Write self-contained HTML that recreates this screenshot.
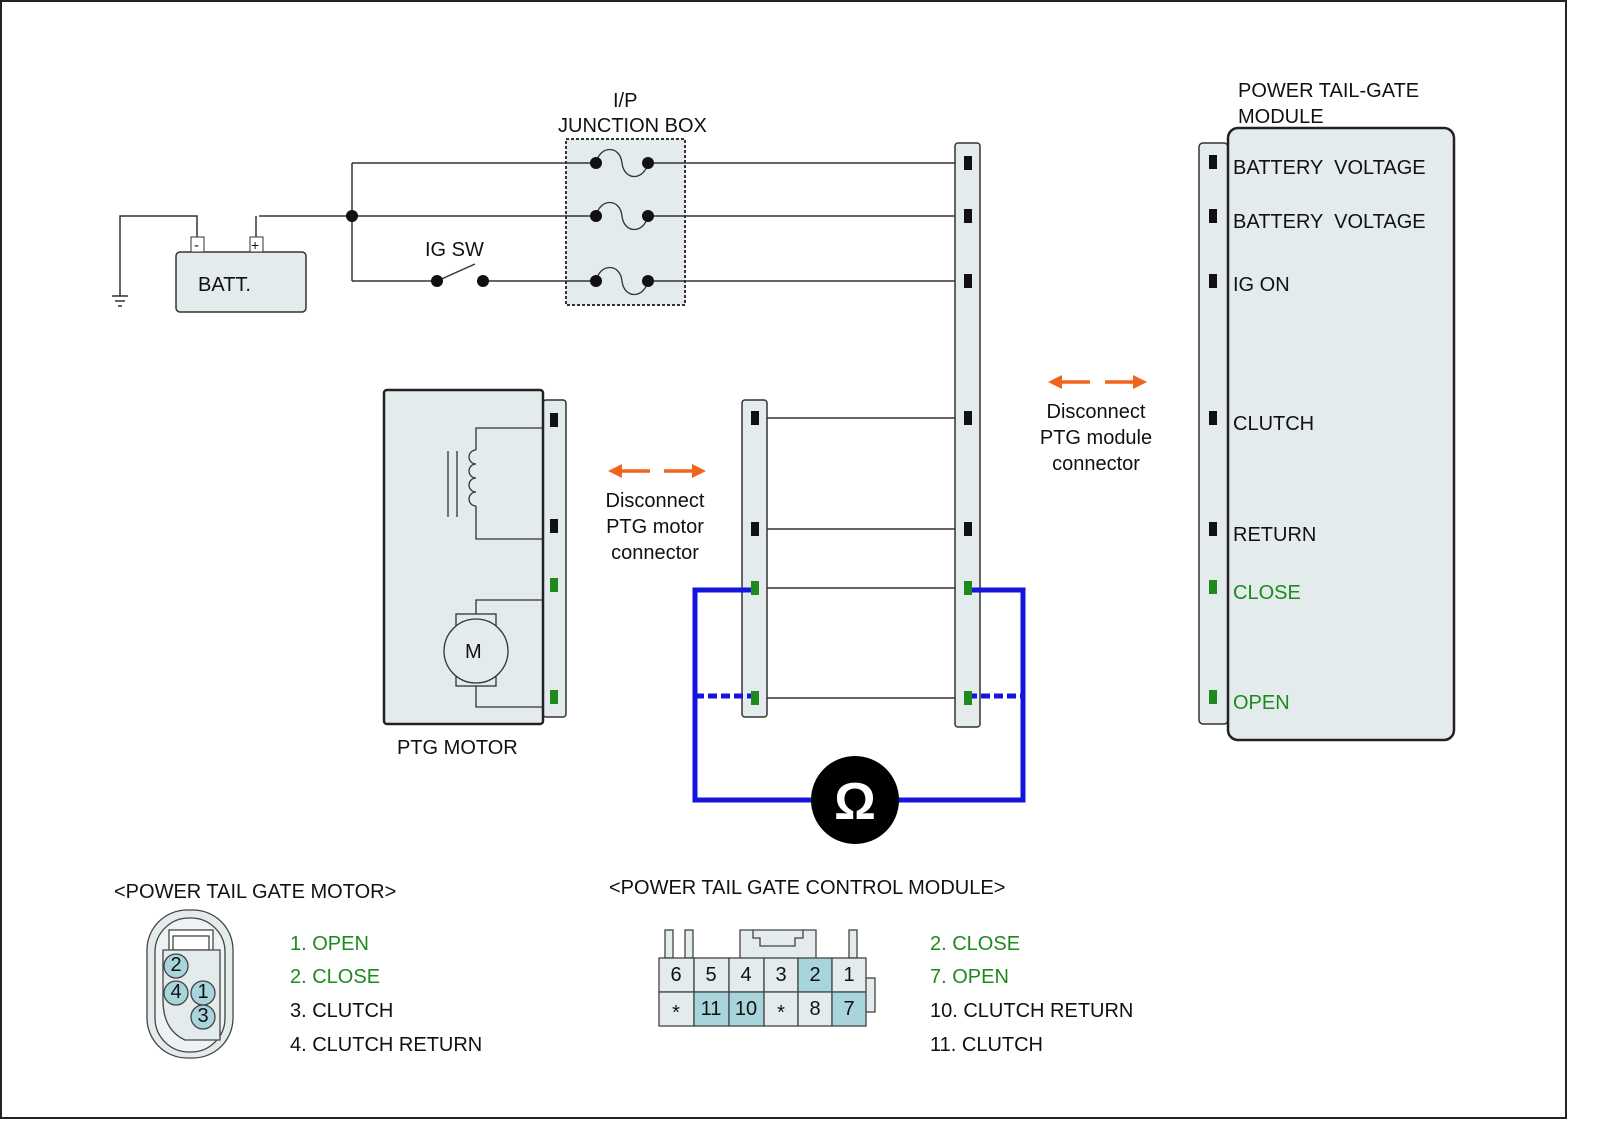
<!DOCTYPE html>
<html><head><meta charset="utf-8"><style>
html,body{margin:0;padding:0;background:#fff}
svg{display:block}
text{font-family:"Liberation Sans",Arial,sans-serif;font-size:20px;fill:#111;white-space:pre}
.g{fill:#1e8a1e}
</style></head><body>
<svg width="1600" height="1143" viewBox="0 0 1600 1143" xmlns="http://www.w3.org/2000/svg">
<rect x="1" y="1" width="1565" height="1117" fill="#fff" stroke="#222" stroke-width="2"/>
<g stroke="#333" stroke-width="1.5" fill="none">
<line x1="352" y1="163" x2="966" y2="163"/>
<line x1="259" y1="216" x2="966" y2="216"/>
<line x1="352" y1="281" x2="437" y2="281"/>
<line x1="483" y1="281" x2="966" y2="281"/>
<line x1="437" y1="281" x2="475" y2="264"/>
<line x1="352" y1="163" x2="352" y2="281"/>
<polyline points="197,237 197,216 120,216 120,296"/>
<line x1="112" y1="296" x2="128" y2="296"/>
<line x1="115" y1="301" x2="125" y2="301"/>
<line x1="118" y1="306" x2="122" y2="306"/>
<line x1="256" y1="237" x2="256" y2="216"/>
<line x1="755" y1="418" x2="966" y2="418"/>
<line x1="755" y1="529" x2="966" y2="529"/>
<line x1="755" y1="588" x2="966" y2="588"/>
<line x1="755" y1="698" x2="966" y2="698"/>
</g>
<rect x="176" y="252" width="130" height="60" rx="4" fill="#e4ebec" stroke="#333" stroke-width="1.5"/>
<rect x="191" y="237" width="13" height="15" fill="#fff" stroke="#333"/>
<rect x="250" y="237" width="13" height="15" fill="#fff" stroke="#333"/>
<text x="194" y="250" style="font-size:15px">-</text>
<text x="251" y="250" style="font-size:14px">+</text>
<text x="198" y="291">BATT.</text>
<circle cx="352" cy="216" r="6" fill="#111"/>
<circle cx="437" cy="281" r="6" fill="#111"/>
<circle cx="483" cy="281" r="6" fill="#111"/>
<text x="425" y="256">IG SW</text>
<rect x="566" y="139" width="119" height="166" fill="#e4ebec" stroke="#333" stroke-width="2" stroke-dasharray="3,2"/>
<line x1="648" y1="163" x2="685" y2="163" stroke="#333" stroke-width="1.5"/>
<line x1="648" y1="216" x2="685" y2="216" stroke="#333" stroke-width="1.5"/>
<line x1="648" y1="281" x2="685" y2="281" stroke="#333" stroke-width="1.5"/>
<line x1="566" y1="163" x2="596" y2="163" stroke="#333" stroke-width="1.5"/>
<line x1="566" y1="216" x2="596" y2="216" stroke="#333" stroke-width="1.5"/>
<line x1="566" y1="281" x2="596" y2="281" stroke="#333" stroke-width="1.5"/>
<g fill="none" stroke="#333" stroke-width="1.3">
<path d="M596,163 C600,145 620,145 622,163 C624,181 644,181 648,163"/>
<path d="M596,216 C600,198 620,198 622,216 C624,234 644,234 648,216"/>
<path d="M596,281 C600,263 620,263 622,281 C624,299 644,299 648,281"/>
</g>
<g fill="#111">
<circle cx="596" cy="163" r="6"/><circle cx="648" cy="163" r="6"/>
<circle cx="596" cy="216" r="6"/><circle cx="648" cy="216" r="6"/>
<circle cx="596" cy="281" r="6"/><circle cx="648" cy="281" r="6"/>
</g>
<text x="613" y="107">I/P</text>
<text x="558" y="132">JUNCTION BOX</text>
<rect x="955" y="143" width="25" height="584" rx="3" fill="#e4ebec" stroke="#333" stroke-width="1.5"/>
<rect x="742" y="400" width="25" height="317" rx="3" fill="#e4ebec" stroke="#333" stroke-width="1.5"/>
<g fill="#111">
<rect x="964" y="156" width="8" height="14"/><rect x="964" y="209" width="8" height="14"/><rect x="964" y="274" width="8" height="14"/>
<rect x="964" y="411" width="8" height="14"/><rect x="964" y="522" width="8" height="14"/>
<rect x="751" y="411" width="8" height="14"/><rect x="751" y="522" width="8" height="14"/>
</g>
<rect x="543" y="400" width="23" height="317" rx="3" fill="#e4ebec" stroke="#333" stroke-width="1.5"/>
<rect x="384" y="390" width="159" height="334" rx="3" fill="#e4ebec" stroke="#222" stroke-width="2.5"/>
<g fill="none" stroke="#333" stroke-width="1.3">
<polyline points="543,428 476,428 476,450"/>
<path d="M476,450 a7,7 0 0 0 0,14 a7,7 0 0 0 0,14 a7,7 0 0 0 0,14 a7,7 0 0 0 0,14"/>
<polyline points="476,506 476,539 543,539"/>
<line x1="448" y1="451" x2="448" y2="517"/><line x1="457" y1="451" x2="457" y2="517"/>
<polyline points="543,600 476,600 476,614"/>
<rect x="456" y="614" width="40" height="72"/>
<polyline points="476,686 476,707 543,707"/>
</g>
<circle cx="476" cy="651" r="32" fill="#e4ebec" stroke="#333" stroke-width="1.3"/>
<text x="465" y="658">M</text>
<g fill="#111"><rect x="550" y="413" width="8" height="14"/><rect x="550" y="519" width="8" height="14"/></g>
<g fill="#1e8a1e"><rect x="550" y="578" width="8" height="14"/><rect x="550" y="690" width="8" height="14"/></g>
<text x="397" y="754">PTG MOTOR</text>
<rect x="1199" y="143" width="29" height="581" rx="4" fill="#e4ebec" stroke="#333" stroke-width="1.5"/>
<rect x="1228" y="128" width="226" height="612" rx="10" fill="#e4ebec" stroke="#222" stroke-width="2.5"/>
<text x="1238" y="97">POWER TAIL-GATE</text>
<text x="1238" y="123">MODULE</text>
<g fill="#111">
<rect x="1209" y="155" width="8" height="14"/><rect x="1209" y="209" width="8" height="14"/><rect x="1209" y="274" width="8" height="14"/>
<rect x="1209" y="411" width="8" height="14"/><rect x="1209" y="522" width="8" height="14"/>
</g>
<g fill="#1e8a1e"><rect x="1209" y="580" width="8" height="14"/><rect x="1209" y="690" width="8" height="14"/></g>
<text x="1233" y="174">BATTERY  VOLTAGE</text>
<text x="1233" y="228">BATTERY  VOLTAGE</text>
<text x="1233" y="291">IG ON</text>
<text x="1233" y="430">CLUTCH</text>
<text x="1233" y="541">RETURN</text>
<text x="1233" y="599" class="g">CLOSE</text>
<text x="1233" y="709" class="g">OPEN</text>
<g fill="none" stroke="#1414dc" stroke-width="5">
<polyline points="755,590 695,590 695,800 1023,800 1023,590 968,590"/>
<line x1="695" y1="696" x2="755" y2="696" stroke-dasharray="9,4"/>
<line x1="968" y1="696" x2="1023" y2="696" stroke-dasharray="9,4"/>
</g>
<g fill="#1e8a1e">
<rect x="751" y="581" width="8" height="14"/><rect x="751" y="691" width="8" height="14"/>
<rect x="964" y="581" width="8" height="14"/><rect x="964" y="691" width="8" height="14"/>
</g>
<circle cx="855" cy="800" r="44" fill="#000"/>
<text x="855" y="819" text-anchor="middle" style="font-size:52px;fill:#fff;font-weight:bold">Ω</text>
<g stroke="#f0641e" stroke-width="3.5" fill="#f0641e">
<line x1="1058" y1="382" x2="1090" y2="382"/><polygon points="1048,382 1062,375 1062,389" stroke="none"/>
<line x1="1105" y1="382" x2="1137" y2="382"/><polygon points="1147,382 1133,375 1133,389" stroke="none"/>
<line x1="618" y1="471" x2="650" y2="471"/><polygon points="608,471 622,464 622,478" stroke="none"/>
<line x1="664" y1="471" x2="696" y2="471"/><polygon points="706,471 692,464 692,478" stroke="none"/>
</g>
<g style="font-size:19px">
<text x="1096" y="418" text-anchor="middle">Disconnect</text>
<text x="1096" y="444" text-anchor="middle">PTG module</text>
<text x="1096" y="470" text-anchor="middle">connector</text>
<text x="655" y="507" text-anchor="middle">Disconnect</text>
<text x="655" y="533" text-anchor="middle">PTG motor</text>
<text x="655" y="559" text-anchor="middle">connector</text>
</g>
<text x="114" y="898">&lt;POWER TAIL GATE MOTOR&gt;</text>
<text x="609" y="894">&lt;POWER TAIL GATE CONTROL MODULE&gt;</text>
<g stroke="#444" stroke-width="1.3" fill="#e4ebec">
<rect x="147" y="910" width="86" height="148" rx="40"/>
<rect x="155" y="918" width="70" height="134" rx="34" fill="#eef2f2"/>
<rect x="169" y="930" width="44" height="22" fill="#fff"/>
<rect x="173" y="936" width="36" height="14" fill="#fff"/>
<path d="M163,950 L220,950 L220,1040 L185,1040 Q163,1030 163,1000 Z"/>
</g>
<g stroke="#444" stroke-width="1.3" fill="#a8d4dc">
<circle cx="176" cy="966" r="12"/><circle cx="176" cy="993" r="12"/><circle cx="203" cy="993" r="12"/><circle cx="203" cy="1017" r="12"/>
</g>
<g style="font-size:14px">
<text x="176" y="971" text-anchor="middle">2</text><text x="176" y="998" text-anchor="middle">4</text>
<text x="203" y="998" text-anchor="middle">1</text><text x="203" y="1022" text-anchor="middle">3</text>
</g>
<text x="290" y="950" class="g">1. OPEN</text>
<text x="290" y="983" class="g">2. CLOSE</text>
<text x="290" y="1017">3. CLUTCH</text>
<text x="290" y="1051">4. CLUTCH RETURN</text>
<g stroke="#444" stroke-width="1.3" fill="#e4ebec">
<rect x="665" y="930" width="8" height="28"/><rect x="685" y="930" width="8" height="28"/>
<rect x="849" y="930" width="8" height="28"/>
<path d="M740,958 L740,930 L816,930 L816,958"/>
<path d="M753,930 L753,938 L760,938 L760,946 L795,946 L795,938 L803,938 L803,930" fill="none"/>
<rect x="865" y="978" width="10" height="34"/>
</g>
<g stroke="#444" stroke-width="1.3">
<rect x="659" y="958" width="35" height="34" fill="#e4ebec"/><rect x="694" y="958" width="35" height="34" fill="#e4ebec"/>
<rect x="729" y="958" width="35" height="34" fill="#e4ebec"/><rect x="764" y="958" width="34" height="34" fill="#e4ebec"/>
<rect x="798" y="958" width="34" height="34" fill="#a8d4dc"/><rect x="832" y="958" width="34" height="34" fill="#e4ebec"/>
<rect x="659" y="992" width="35" height="34" fill="#e4ebec"/><rect x="694" y="992" width="35" height="34" fill="#a8d4dc"/>
<rect x="729" y="992" width="35" height="34" fill="#a8d4dc"/><rect x="764" y="992" width="34" height="34" fill="#e4ebec"/>
<rect x="798" y="992" width="34" height="34" fill="#e4ebec"/><rect x="832" y="992" width="34" height="34" fill="#a8d4dc"/>
</g>
<g style="font-size:15px">
<text x="676" y="981" text-anchor="middle">6</text><text x="711" y="981" text-anchor="middle">5</text>
<text x="746" y="981" text-anchor="middle">4</text><text x="781" y="981" text-anchor="middle">3</text>
<text x="815" y="981" text-anchor="middle">2</text><text x="849" y="981" text-anchor="middle">1</text>
<text x="676" y="1019" text-anchor="middle" style="font-size:20px">*</text><text x="711" y="1015" text-anchor="middle">11</text>
<text x="746" y="1015" text-anchor="middle">10</text><text x="781" y="1019" text-anchor="middle" style="font-size:20px">*</text>
<text x="815" y="1015" text-anchor="middle">8</text><text x="849" y="1015" text-anchor="middle">7</text>
</g>
<text x="930" y="950" class="g">2. CLOSE</text>
<text x="930" y="983" class="g">7. OPEN</text>
<text x="930" y="1017">10. CLUTCH RETURN</text>
<text x="930" y="1051">11. CLUTCH</text>
</svg>
</body></html>
